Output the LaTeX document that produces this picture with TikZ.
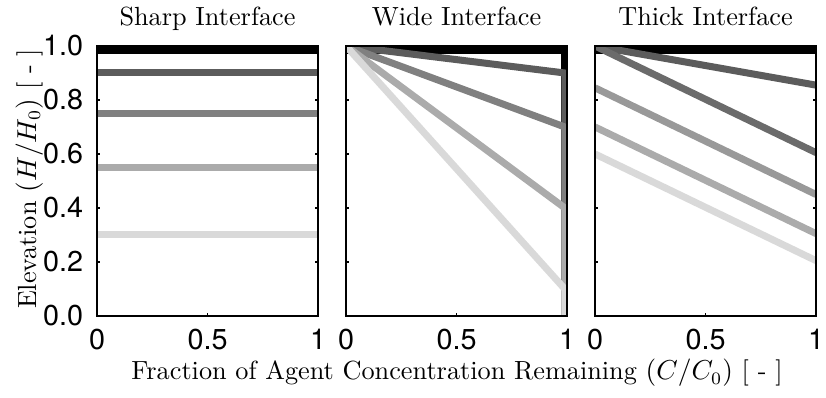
\documentclass[tikz,border=0pt]{standalone}
\usepackage{fontspec}
\newfontfamily\ticksf{TeX Gyre Heros}
\definecolor{c1}{gray}{0.0}
\definecolor{c2}{gray}{0.36}
\definecolor{c3}{gray}{0.5}
\definecolor{c4}{gray}{0.67}
\definecolor{c5}{gray}{0.85}
\definecolor{c6}{gray}{0.42}
\definecolor{c7}{gray}{0.6}
\begin{document}
\begin{tikzpicture}[x=0.4pt, y=0.4pt,
	ttl/.style={font=\fontsize{10.5}{12}\selectfont, inner sep=0pt},
	tlab/.style={font=\ticksf\fontsize{11.5}{13}\selectfont, inner sep=0pt},
	frm/.style={line width=0.8pt},
	tck/.style={line width=0.5pt},
	crv/.style={line width=2.8pt, line join=miter},
	panel/.style={x=88.4pt, y=108pt}]
	\useasboundingbox (0,0) rectangle (826,398);

	% axes boxes, ticks and titles
	\foreach \px/\name/\ttext in {38.8/s/Sharp, 138.4/w/Wide, 238/t/Thick} {
		\begin{scope}[xshift=\px pt, yshift=32.8pt, panel]
			\node[ttl, anchor=base] (t\name) at (0.5,1) [yshift=8pt] {\ttext\ Interface};
			\foreach \v in {0,0.2,0.4,0.6,0.8,1} {
				\draw[tck] (0,\v) -- ++(1.2pt,0);
				\draw[tck] (1,\v) -- ++(-1.2pt,0);
			}
			\draw[tck] (0.5,0) -- ++(0,1.2pt);
			\draw[tck] (0.5,1) -- ++(0,-1.2pt);
			\node[tlab, anchor=north] (x0\name) at (0,0) [yshift=-5.2pt] {0};
			\node[tlab, anchor=north] (x5\name) at (0.5,0) [yshift=-5.2pt] {0.5};
			\node[tlab, anchor=north] (x1\name) at (1,0) [yshift=-5.2pt] {1};
		\end{scope}
	}

	% elevation tick labels
	\begin{scope}[xshift=38.8pt, yshift=32.8pt, panel]
		\foreach \v/\i in {0.0/0, 0.2/1, 0.4/2, 0.6/3, 0.8/4, 1.0/5}
			\node[tlab, anchor=east] (y\i) at (0,\v) [xshift=-5.4pt] {\v};
	\end{scope}

	% sharp interface
	\begin{scope}[xshift=38.8pt, yshift=32.8pt, panel]
		\clip (0,0) rectangle (1,1);
		\draw[crv, c1] (0,0.983) -- (1,0.983);
		\draw[crv, c2] (0,0.9) -- (1,0.9);
		\draw[crv, c3] (0,0.75) -- (1,0.75);
		\draw[crv, c4] (0,0.55) -- (1,0.55);
		\draw[crv, c5] (0,0.3) -- (1,0.3);
	\end{scope}

	% wide interface
	\begin{scope}[xshift=138.4pt, yshift=32.8pt, panel]
		\clip (0,0) rectangle (1,1);
		\draw[crv, c1] (0,0.983) -- (0.99,0.983) -- (0.99,0);
		\draw[crv, c2] (0,1) -- (0.99,0.9) -- (0.99,0);
		\draw[crv, c3] (0,1) -- (0.99,0.7) -- (0.99,0);
		\draw[crv, c4] (0,1) -- (0.99,0.4) -- (0.99,0);
		\draw[crv, c5] (0,1) -- (0.99,0.1) -- (0.99,0);
	\end{scope}

	% thick interface
	\begin{scope}[xshift=238pt, yshift=32.8pt, panel]
		\clip (0,0) rectangle (1,1);
		\draw[crv, c1] (0,0.983) -- (1,0.983);
		\draw[crv, c2] (0,1) -- (1,0.855);
		\draw[crv, c6] (0,1) -- (1,0.605);
		\draw[crv, c7] (0,0.845) -- (1,0.45);
		\draw[crv, c4] (0,0.7) -- (1,0.305);
		\draw[crv, c5] (0,0.6) -- (1,0.205);
	\end{scope}

	% boxes on top of the curves
	\foreach \px in {38.8, 138.4, 238}
		\draw[frm, xshift=\px pt, yshift=32.8pt, panel] (0,0) rectangle (1,1);

	\node[ttl, anchor=base] (xlab) at (457,18) {Fraction of Agent Concentration Remaining $(C/C_0)$ [ - ]};
	\node[ttl, anchor=base, rotate=90] (ylab) at (36,219) {Elevation $(H/H_0)$ [ - ]};
\end{tikzpicture}
\end{document}
